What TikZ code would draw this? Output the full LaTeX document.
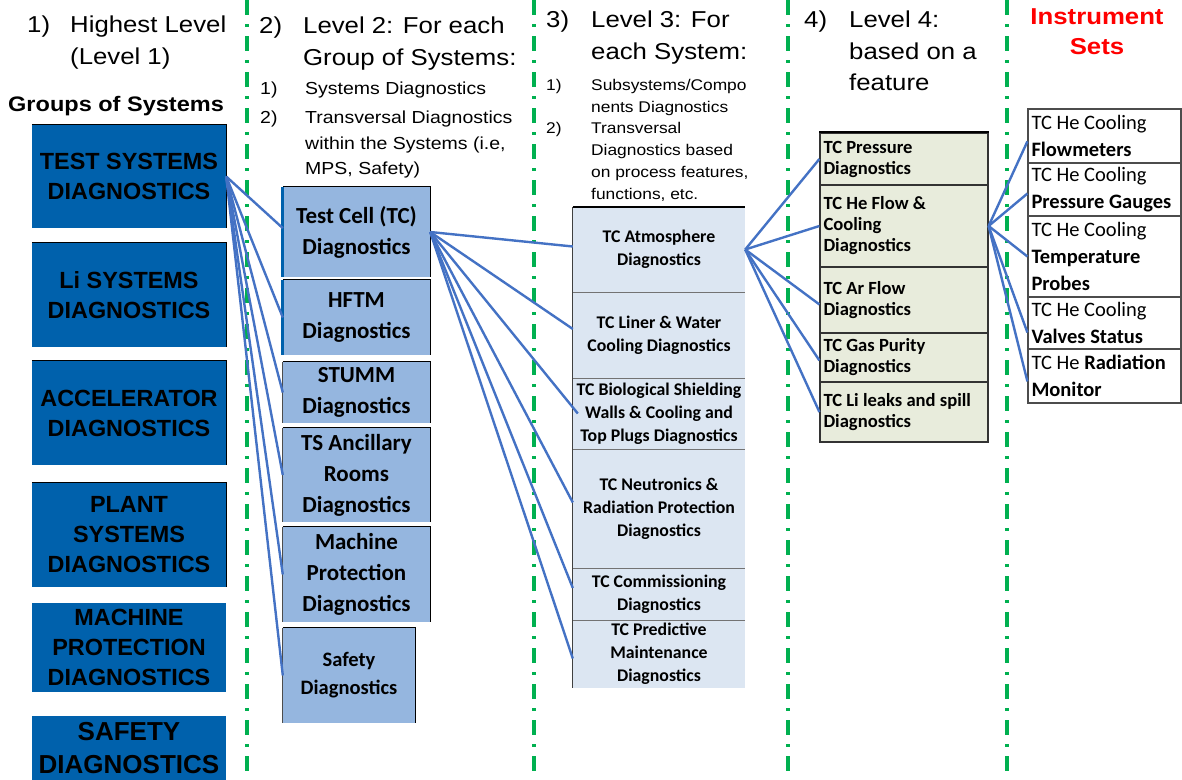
\documentclass[tikz,border=0pt]{standalone}
\usepackage{fontspec}
\setmainfont{Liberation Sans}
\newfontfamily\hdr[FakeStretch=1.12]{Liberation Sans}
\newfontfamily\calibri{Carlito}
\usepackage{tikz}
\usetikzlibrary{positioning}
\definecolor{groupblue}{RGB}{0,97,172}
\definecolor{sysblue}{RGB}{149,182,223}
\definecolor{subblue}{RGB}{220,230,242}
\definecolor{featgreen}{RGB}{232,236,220}
\definecolor{linkblue}{RGB}{68,114,196}
\definecolor{sepgreen}{RGB}{0,176,80}
\definecolor{instred}{RGB}{255,0,0}

\begin{document}
\begin{tikzpicture}[x=1pt, y=-1pt,
		groupbox/.style={rectangle, fill=groupblue, minimum width=194pt, inner sep=0pt, align=center, font=\bfseries\fontsize{23.4}{30}\selectfont},
		sysbox/.style={rectangle, fill=sysblue, minimum width=147pt, inner sep=0pt, align=center, font=\calibri\bfseries\fontsize{23}{31}\selectfont},
		subbox/.style={rectangle, fill=subblue, minimum width=172pt, inner sep=0pt, align=center, font=\calibri\bfseries\fontsize{17.8}{23}\selectfont},
		featbox/.style={rectangle, fill=featgreen, draw=black!80, line width=1.2pt, text width=161pt, inner xsep=3.5pt, inner ysep=0pt, align=flush left, font=\calibri\bfseries\fontsize{18.6}{21}\selectfont},
		instbox/.style={rectangle, fill=white, draw=black!70, line width=1.2pt, text width=146pt, inner xsep=3.5pt, inner ysep=0pt, align=flush left, font=\calibri\fontsize{20.5}{27}\selectfont},
		link/.style={draw=linkblue, line width=2.4pt},
		border/.style={draw=black, line width=1.3pt},
		sep/.style={draw=sepgreen, line width=3.4pt, dash pattern=on 15pt off 9pt on 3pt off 9pt},
		head/.style={anchor=north west, inner sep=0pt, align=left, font=\hdr\fontsize{23}{31.5}\selectfont},
		list/.style={anchor=north west, inner sep=0pt, align=left, font=\hdr\fontsize{17.4}{25.5}\selectfont},
		listb/.style={anchor=north west, inner sep=0pt, align=left, font=\hdr\fontsize{15.5}{22}\selectfont}
		]
		\useasboundingbox (0,0) rectangle (1182,779);
		
		% Les separations
		\draw[sep] (247,0) -- (247,779);
		\draw[sep] (534,0) -- (534,779);
		\draw[sep] (788,0) -- (788,779);
		\draw[sep] (1007,0) -- (1007,779);
		
		% Les titres
		\node[head] (n1) at (27,16) {1)};
		\node[head] (h1) at (70,16) {Highest Level\\(Level 1)};
		\node[anchor=north west, inner sep=0pt, font=\hdr\bfseries\fontsize{21}{25}\selectfont] (grp) at (8,96) {Groups of Systems};
		\node[head] (n2) at (259,17) {2)};
		\node[head] (h2) at (303,17) {Level 2: For each\\Group of Systems:};
		\node[list] (n21) at (260,82) {1)};
		\node[list] (l21) at (305,82) {Systems Diagnostics};
		\node[list] (n22) at (260,111) {2)};
		\node[list] (l22) at (305,111) {Transversal Diagnostics\\within the Systems (i.e,\\MPS, Safety)};
		\node[head] (n3) at (546,11) {3)};
		\node[head] (h3) at (591,11) {Level 3: For\\each System:};
		\node[listb] (n31) at (546,79) {1)};
		\node[listb] (l31) at (591,79) {Subsystems/Compo\\nents Diagnostics};
		\node[listb] (n32) at (546,122) {2)};
		\node[listb] (l32) at (591,122) {Transversal\\Diagnostics based\\on process features,\\functions, etc.};
		\node[head] (n4) at (804,11) {4)};
		\node[head] (h4) at (849,11) {Level 4:\\based on a\\feature};
		\node[anchor=north, inner sep=0pt, align=center, text=instred, font=\hdr\bfseries\fontsize{23}{30}\selectfont] (inst) at (1097,8) {Instrument\\Sets};
		
		% Niveau 1
		\node[groupbox, minimum height=103pt] (tsd) at (129,176.5) {TEST SYSTEMS\\DIAGNOSTICS};
		\node[groupbox, minimum height=104pt] (lisd) at (129,295) {Li SYSTEMS\\DIAGNOSTICS};
		\node[groupbox, minimum height=104pt] (accd) at (129,413) {ACCELERATOR\\DIAGNOSTICS};
		\node[groupbox, minimum height=104pt] (plsd) at (129,535) {PLANT\\SYSTEMS\\DIAGNOSTICS};
		\node[groupbox, minimum height=89pt] (mpd) at (129,647.5) {MACHINE\\PROTECTION\\DIAGNOSTICS};
		\node[groupbox, minimum height=65pt, font=\bfseries\fontsize{26}{33}\selectfont] (sfd) at (129,748.5) {SAFETY\\DIAGNOSTICS};
		\draw[border] (tsd.north west) -- (tsd.north east) -- (tsd.south east);
		\draw[border] (lisd.north west) -- (lisd.north east) -- (lisd.south east);
		\draw[border] (accd.north west) -- (accd.north east) -- (accd.south east);
		\draw[border] (plsd.north west) -- (plsd.north east) -- (plsd.south east);
		
		% Niveau 2
		\node[sysbox, minimum height=90pt] (tc) at (356.5,232) {Test Cell (TC)\\Diagnostics};
		\node[sysbox, minimum height=75pt] (hftm) at (356.5,317.5) {HFTM\\Diagnostics};
		\node[sysbox, minimum height=61pt] (stumm) at (356.5,392.5) {STUMM\\Diagnostics};
		\node[sysbox, minimum height=94pt] (tsar) at (356.5,475) {TS Ancillary\\Rooms\\Diagnostics};
		\node[sysbox, minimum height=95pt] (mpsd) at (356.5,574.5) {Machine\\Protection\\Diagnostics};
		\node[sysbox, minimum width=132pt, minimum height=95pt, font=\calibri\bfseries\fontsize{20.5}{28}\selectfont] (safe) at (349,675.5) {Safety\\Diagnostics};
		\draw[draw=groupblue, line width=3pt] (tc.north west) -- (tc.south west);
		\draw[draw=groupblue, line width=3pt] (hftm.north west) -- (hftm.south west);
		\draw[border] (tc.north west) -- (tc.north east) -- (tc.south east);
		\draw[border] (hftm.north west) -- (hftm.north east) -- (hftm.south east);
		\draw[border] (stumm.north west) -- (stumm.north east) -- (stumm.south east);
		\draw[border] (tsar.north west) -- (tsar.north east) -- (tsar.south east);
		\draw[border] (mpsd.north west) -- (mpsd.north east) -- (mpsd.south east);
		\draw[border] (safe.north west) -- (safe.north east) -- (safe.south east);
		\draw[draw=black!70, line width=1pt] (stumm.north west) -- (stumm.south west);
		\draw[draw=black!70, line width=1pt] (tsar.north west) -- (tsar.south west);
		\draw[draw=black!70, line width=1pt] (mpsd.north west) -- (mpsd.south west);
		\draw[draw=black!70, line width=1pt] (safe.north west) -- (safe.south west);
		
		% Niveau 3
		\node[subbox, minimum height=85pt] (atm) at (659,249.5) {TC Atmosphere\\Diagnostics};
		\node[subbox, minimum height=86pt] (liner) at (659,335) {TC Liner \& Water\\Cooling Diagnostics};
		\node[subbox, minimum height=71pt] (bio) at (659,413.5) {TC Biological Shielding\\Walls \& Cooling and\\Top Plugs Diagnostics};
		\node[subbox, minimum height=119pt] (neut) at (659,508.5) {TC Neutronics \&\\Radiation Protection\\Diagnostics};
		\node[subbox, minimum height=52pt] (comm) at (659,594) {TC Commissioning\\Diagnostics};
		\node[subbox, minimum height=68pt] (pred) at (659,654) {TC Predictive\\Maintenance\\Diagnostics};
		\draw[draw=black!55, line width=1pt] (atm.south west) -- (atm.south east);
		\draw[draw=black!55, line width=1pt] (liner.south west) -- (liner.south east);
		\draw[draw=black!55, line width=1pt] (bio.south west) -- (bio.south east);
		\draw[draw=black!55, line width=1pt] (neut.south west) -- (neut.south east);
		\draw[draw=black!55, line width=1pt] (comm.south west) -- (comm.south east);
		\draw[draw=black!75, line width=1.2pt] (atm.north west) -- (pred.south west);
		\draw[line width=2pt] (atm.north west) -- (atm.north east);
		
		% Niveau 4
		\node[featbox, minimum height=52pt] (pres) at (904,159) {TC Pressure\\Diagnostics};
		\node[featbox, minimum height=82pt] (heflow) at (904,226) {TC He Flow \&\\Cooling\\Diagnostics};
		\node[featbox, minimum height=66pt] (arflow) at (904,300) {TC Ar Flow\\Diagnostics};
		\node[featbox, minimum height=49pt] (gas) at (904,357.5) {TC Gas Purity\\Diagnostics};
		\node[featbox, minimum height=60pt] (lileak) at (904,412) {TC Li leaks and spill\\Diagnostics};
		\draw[line width=2pt] (pres.north west) -- (pres.north east);
		
		% Instruments
		\node[instbox, minimum height=54pt] (flow) at (1104.5,136) {TC He Cooling\\\textbf{Flowmeters}};
		\node[instbox, minimum height=53pt] (gauge) at (1104.5,189.5) {TC He Cooling\\\textbf{Pressure Gauges}};
		\node[instbox, minimum height=81pt] (temp) at (1104.5,256.5) {TC He Cooling\\\textbf{Temperature}\\\textbf{Probes}};
		\node[instbox, minimum height=52pt] (valve) at (1104.5,323) {TC He Cooling\\\textbf{Valves Status}};
		\node[instbox, minimum height=54pt] (radmon) at (1104.5,376) {TC He \textbf{Radiation}\\\textbf{Monitor}};
		
		% Les liens
		\draw[link] (tsd.east) to (tc.177);
		\draw[link] (tsd.east) to (hftm.west);
		\draw[link] (tsd.east) to (stumm.west);
		\draw[link] (tsd.east) to (tsar.west);
		\draw[link] (tsd.east) to (mpsd.west);
		\draw[link] (tsd.east) to (safe.west);
		
		\draw[link] (tc.east) to (atm.178);
		\draw[link] (tc.east) to (liner.176);
		\draw[link] (tc.east) to ([xshift=5pt]bio.180);
		\draw[link] (tc.east) to (neut.176);
		\draw[link] (tc.east) to (comm.176);
		\draw[link] (tc.east) to (pred.183);
		
		\draw[link] (atm.east) to (pres.west);
		\draw[link] (atm.east) to (heflow.west);
		\draw[link] (atm.east) to (arflow.183);
		\draw[link] (atm.east) to (gas.182);
		\draw[link] (atm.east) to (lileak.west);
		
		\draw[link] (heflow.east) to (flow.184);
		\draw[link] (heflow.east) to (gauge.183);
		\draw[link] (heflow.east) to (temp.west);
		\draw[link] (heflow.east) to (valve.187);
		\draw[link] (heflow.east) to (radmon.184);
	\end{tikzpicture}
\end{document}
